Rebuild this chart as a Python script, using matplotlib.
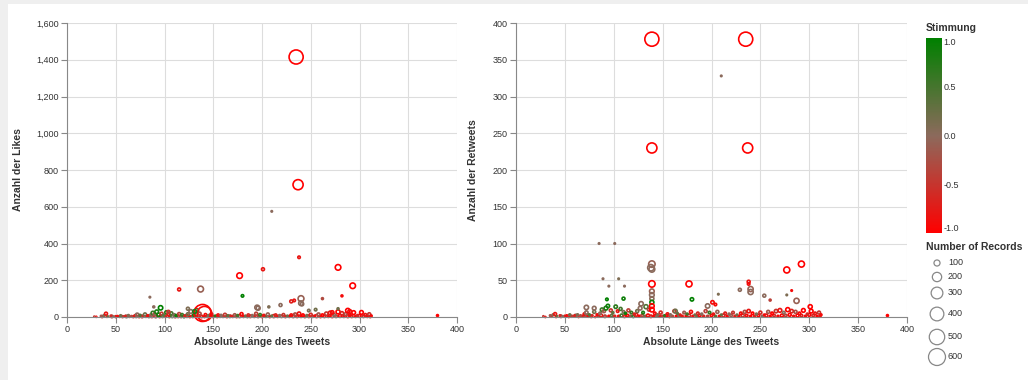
import numpy as np
import matplotlib.pyplot as plt
from matplotlib.colors import LinearSegmentedColormap, Normalize
from matplotlib.patches import Rectangle

plt.rcParams['font.family'] = ['Liberation Sans', 'DejaVu Sans']

# tweets close to the bottom (shared by both panels)
low_x = [28, 35, 38, 40, 42, 45, 48, 52, 55, 58,
         60, 63, 66, 70, 72, 75, 78, 80, 83, 86,
         88, 90, 92, 94, 97, 99, 102, 104, 107, 110,
         112, 115, 118, 121, 124, 127, 130, 133, 136, 142,
         145, 148, 152, 155, 158, 162, 165, 168, 172, 175,
         179, 183, 186, 190, 194, 198, 202, 206, 210, 214,
         218, 222, 226, 230, 234, 238, 242, 246, 250, 254,
         258, 262, 266, 270, 274, 278, 282, 286, 290, 294,
         298, 302, 306, 310, 312, 380]
low_likes = [2, 5, 8, 18, 3, 6, 2, 4, 7, 3,
             5, 8, 4, 6, 12, 9, 5, 14, 7, 10,
             22, 15, 28, 12, 18, 9, 25, 14, 20, 11,
             8, 16, 12, 6, 15, 30, 10, 35, 18, 12,
             8, 14, 6, 10, 9, 12, 7, 5, 11, 8,
             16, 6, 10, 8, 18, 12, 9, 14, 6, 10,
             8, 12, 6, 10, 14, 18, 10, 8, 12, 6,
             14, 10, 18, 22, 12, 28, 20, 16, 10, 24,
             8, 25, 12, 15, 6, 8]
low_rts = [1, 2, 3, 4, 1, 2, 1, 2, 3, 1,
           2, 3, 2, 4, 6, 3, 2, 7, 3, 5,
           10, 8, 12, 15, 9, 6, 14, 8, 11, 7,
           5, 9, 6, 4, 8, 12, 6, 14, 10, 5,
           3, 6, 2, 4, 3, 8, 5, 3, 6, 4,
           7, 3, 5, 4, 8, 6, 4, 7, 3, 5,
           4, 6, 3, 5, 7, 8, 5, 4, 6, 3,
           7, 5, 8, 9, 6, 10, 8, 7, 5, 9,
           4, 8, 5, 6, 3, 2]
low_sent = [-0.5, -0.2, 0.1, -0.8, 0.3, -0.6, 0.0, -0.9, 0.2, -0.4,
            -0.7, 0.1, -0.3, -0.8, 0.0, 0.4, -0.6, 0.2, -0.9, 0.0,
            0.6, -0.2, 0.8, 0.9, -0.5, 0.3, 0.7, -0.8, 0.5, 0.1,
            0.9, -0.4, 0.6, -0.7, 0.2, 0.0, 0.8, 0.4, -0.3, -0.9,
            0.1, -0.6, 0.7, -0.8, 0.0, -0.5, 0.3, -0.7, -0.2, 0.5,
            -0.9, 0.2, -0.6, 0.0, -0.4, 0.6, -0.8, -0.1, 0.3, -0.7,
            0.0, -0.5, 0.2, -0.9, -0.3, -0.8, -1.0, 0.1, -0.6, -0.9,
            -0.2, -1.0, -0.5, -0.8, 0.0, -1.0, -0.7, -0.3, -0.9, -1.0,
            -0.6, -1.0, -0.8, -0.5, -0.9, -1.0]
low_n = [30, 32, 35, 45, 30, 32, 30, 32, 35, 30,
         32, 35, 32, 40, 50, 35, 32, 45, 35, 40,
         50, 45, 55, 50, 45, 35, 50, 40, 45, 40,
         35, 45, 40, 35, 45, 55, 40, 60, 45, 40,
         35, 45, 32, 40, 35, 45, 35, 32, 40, 35,
         45, 32, 40, 35, 45, 40, 35, 45, 32, 40,
         35, 40, 32, 40, 45, 50, 40, 35, 45, 32,
         45, 40, 50, 55, 40, 60, 50, 45, 40, 55,
         35, 55, 40, 45, 35, 35]

# the band of tweets right on the x axis
base_x = [30, 36, 41, 46, 50, 54, 57, 61, 64, 68,
          71, 74, 77, 81, 84, 87, 91, 95, 98, 101,
          105, 108, 111, 114, 117, 120, 123, 126, 129, 132,
          135, 138, 141, 144, 147, 150, 154, 157, 160, 164,
          167, 170, 174, 177, 181, 185, 188, 192, 196, 200,
          204, 208, 212, 216, 220, 224, 228, 232, 236, 240,
          244, 248, 252, 256, 260, 264, 268, 272, 276, 280,
          284, 288, 292, 296, 300, 304, 308, 311]
base_likes = [1, 2, 1, 3, 2, 1, 2, 3, 1, 2,
              4, 2, 3, 1, 2, 5, 3, 2, 4, 3,
              2, 5, 3, 4, 2, 3, 6, 2, 4, 3,
              5, 3, 2, 4, 3, 2, 4, 1, 3, 2,
              4, 3, 2, 5, 3, 2, 4, 3, 2, 4,
              3, 2, 5, 3, 4, 2, 3, 5, 4, 3,
              2, 4, 3, 5, 2, 4, 3, 5, 4, 6,
              3, 5, 4, 3, 6, 4, 3, 2]
base_rts = [0, 1, 0, 1, 1, 0, 1, 2, 0, 1,
            2, 1, 1, 0, 1, 2, 1, 1, 2, 1,
            1, 2, 1, 2, 1, 1, 3, 1, 2, 1,
            2, 1, 1, 2, 1, 1, 2, 0, 1, 1,
            2, 1, 1, 2, 1, 1, 2, 1, 1, 2,
            1, 1, 2, 1, 2, 1, 1, 2, 2, 1,
            1, 2, 1, 2, 1, 2, 1, 2, 2, 3,
            1, 2, 2, 1, 3, 2, 1, 1]
base_sent = [-0.9, -0.6, -1.0, -0.3, -0.8, -1.0, -0.5, 0.0, -0.9, -0.7,
             -0.2, -1.0, -0.6, -0.9, 0.1, -0.8, -0.4, -1.0, 0.3, -0.7,
             -0.9, 0.5, -0.6, -1.0, -0.2, 0.6, -0.8, -1.0, -0.4, 0.2,
             -0.9, -0.7, -1.0, 0.0, -0.8, -0.5, -1.0, -0.9, -0.3, -1.0,
             0.1, -0.8, -1.0, -0.6, -0.9, 0.2, -1.0, -0.7, -0.4, -1.0,
             0.4, -0.9, -0.6, -1.0, -0.2, -0.8, -1.0, -0.5, -0.9, -1.0,
             -0.7, -1.0, 0.0, -0.8, -1.0, -0.6, -0.9, -1.0, -0.4, -1.0,
             -0.8, -1.0, -0.7, -0.9, -1.0, -0.6, -1.0, -0.8]
base_n = [30, 35, 30, 40, 35, 30, 35, 40, 30, 35,
          40, 35, 40, 30, 35, 45, 40, 35, 40, 35,
          35, 45, 40, 40, 35, 40, 45, 35, 40, 35,
          45, 40, 35, 40, 35, 35, 40, 30, 35, 35,
          40, 35, 35, 45, 35, 35, 40, 35, 35, 40,
          35, 35, 45, 35, 40, 35, 35, 45, 40, 35,
          35, 40, 35, 45, 35, 40, 35, 45, 40, 45,
          35, 45, 40, 35, 45, 40, 35, 35]

# likes panel, outstanding tweets
lk_x = [235, 237, 210, 238, 201, 177, 278, 293, 115, 137,
        180, 282, 262, 85, 240, 240, 241, 230, 233, 219,
        207, 195, 196, 96, 89, 124, 139, 141, 278, 288,
        290, 248, 255, 131, 104, 272]
lk_y = [1415, 720, 575, 325, 260, 225, 270, 170, 150, 152,
        115, 115, 100, 108, 100, 75, 70, 85, 90, 65,
        55, 52, 48, 50, 55, 45, 22, 18, 45, 35,
        30, 35, 40, 30, 28, 25]
lk_sent = [-1.0, -1.0, 0.0, -0.8, -0.8, -1.0, -1.0, -1.0, -0.8, -0.1,
           1.0, -0.9, -0.3, 0.0, -0.1, 0.0, 0.0, -0.7, -0.8, 0.0,
           0.1, 0.0, 0.0, 1.0, 0.0, 0.1, -1.0, -0.9, 0.2, -1.0,
           -0.9, 0.1, 0.2, 0.8, -0.5, -0.9]
lk_n = [420, 230, 32, 40, 45, 90, 90, 90, 45, 95,
        40, 35, 35, 32, 95, 70, 50, 45, 40, 45,
        35, 70, 60, 65, 35, 45, 600, 450, 35, 65,
        55, 40, 40, 55, 45, 50]

# retweets panel, outstanding tweets
rt_x = [139, 235, 139, 237, 210, 85, 101, 139, 138, 139,
        292, 277, 139, 177, 89, 105, 95, 111, 238, 238,
        240, 240, 229, 282, 207, 254, 277, 260, 287, 180,
        201, 204, 93, 110, 139, 139, 139, 139, 139, 139,
        301, 72, 80, 196, 128, 163]
rt_y = [378, 378, 230, 230, 328, 100, 100, 72, 67, 65,
        72, 64, 45, 45, 52, 52, 42, 42, 48, 45,
        38, 34, 37, 36, 31, 29, 30, 23, 22, 24,
        20, 17, 24, 25, 35, 30, 25, 20, 15, 10,
        14, 13, 12, 15, 18, 8]
rt_sent = [-1.0, -1.0, -1.0, -1.0, 0.0, 0.0, 0.0, -0.1, 0.0, 0.0,
           -1.0, -1.0, -1.0, -1.0, 0.0, 0.1, 0.0, 0.0, -0.8, -0.9,
           -0.1, 0.0, 0.0, -0.9, 0.1, 0.0, 0.1, -0.4, -0.1, 1.0,
           -0.9, -0.9, 1.0, 0.9, -0.1, 0.0, 0.0, 0.9, -1.0, -1.0,
           -1.0, 0.0, 0.0, 0.0, 0.0, 0.2]
rt_n = [420, 420, 230, 230, 32, 32, 32, 110, 110, 95,
        100, 100, 110, 100, 32, 32, 32, 32, 45, 40,
        80, 80, 45, 32, 32, 45, 32, 35, 80, 50,
        50, 40, 40, 45, 70, 70, 60, 60, 70, 70,
        60, 65, 55, 65, 65, 55]

legend_n = [100, 200, 300, 400, 500, 600]

cmap = LinearSegmentedColormap.from_list('stimmung', ['#ff0000', '#8c6a5c', '#008000'])
norm = Normalize(-1, 1)


def marker_area(n):
    # vega like size scale: area grows linearly with records
    d2 = np.maximum(0.505 * np.asarray(n, dtype=float) - 14, 1.0)
    return 0.5184 * d2


def points(ax, x, y, sent, n):
    ax.scatter(x, y, s=marker_area(n), facecolors='none',
               edgecolors=cmap(norm(sent)), linewidths=1.2, clip_on=False)


def style_axis(ax, ymax, ystep, ylabel, ylabel_x):
    ax.set_xlim(0, 400)
    ax.set_ylim(0, ymax)
    ax.set_xticks(np.arange(0, 401, 50))
    ax.set_yticks(np.arange(0, ymax + 1, ystep))
    ax.set_yticklabels(['{:,}'.format(v) for v in range(0, ymax + 1, ystep)])
    ax.grid(True, color='#dddddd', linewidth=0.8)
    ax.set_axisbelow(True)
    for s in ['top', 'right']:
        ax.spines[s].set_visible(False)
    for s in ['left', 'bottom']:
        ax.spines[s].set_color('#888888')
        ax.spines[s].set_linewidth(0.8)
    ax.tick_params(colors='#888888', labelcolor='#333333', labelsize=6.5,
                   length=4, width=0.8, pad=2)
    ax.set_xlabel('Absolute Länge des Tweets', fontsize=7.5, fontweight='bold', color='#333333')
    ax.set_ylabel(ylabel, fontsize=7.5, fontweight='bold', color='#333333')
    ax.xaxis.set_label_coords(0.5, -0.068)
    ax.yaxis.set_label_coords(ylabel_x, 0.5)


fig = plt.figure(figsize=(10.28, 3.8), dpi=100)
fig.patch.set_facecolor('white')
# grey page border on top and left
fig.patches.append(Rectangle((0, 1 - 4 / 380), 1, 4 / 380, transform=fig.transFigure,
                             facecolor='#efefef', edgecolor='none', zorder=-5))
fig.patches.append(Rectangle((0, 0), 8 / 1028, 1, transform=fig.transFigure,
                             facecolor='#efefef', edgecolor='none', zorder=-5))

ax1 = fig.add_axes([67 / 1028, 1 - 317 / 380, 390 / 1028, 294 / 380])
ax2 = fig.add_axes([516 / 1028, 1 - 317 / 380, 391 / 1028, 294 / 380])

points(ax1, base_x, base_likes, base_sent, base_n)
points(ax1, low_x, low_likes, low_sent, low_n)
points(ax1, lk_x, lk_y, lk_sent, lk_n)
style_axis(ax1, 1600, 200, 'Anzahl der Likes', -0.113)

points(ax2, base_x, base_rts, base_sent, base_n)
points(ax2, low_x, low_rts, low_sent, low_n)
points(ax2, rt_x, rt_y, rt_sent, rt_n)
style_axis(ax2, 400, 50, 'Anzahl der Retweets', -0.097)

# colour legend
cax = fig.add_axes([926 / 1028, 1 - 233 / 380, 16 / 1028, 195 / 380])
sm = plt.cm.ScalarMappable(norm=norm, cmap=cmap)
cb = fig.colorbar(sm, cax=cax, ticks=[-1.0, -0.5, 0.0, 0.5, 1.0])
cb.outline.set_visible(False)
cb.ax.tick_params(length=0, labelsize=6.5, labelcolor='#333333', pad=1)
cb.ax.set_yticklabels(['-1.0', '-0.5', '0.0', '0.5', '1.0'])
cb_labels = cb.ax.get_yticklabels()
cb_labels[0].set_va('bottom')
cb_labels[-1].set_va('top')
fig.text(926 / 1028, 1 - 28 / 380, 'Stimmung', fontsize=7.5, fontweight='bold',
         color='#333333', va='center')

# size legend
fig.text(926 / 1028, 1 - 247 / 380, 'Number of Records', fontsize=7.5, fontweight='bold',
         color='#333333', va='center')
lax = fig.add_axes([926 / 1028, 0, 100 / 1028, 1 - 253 / 380])
lax.set_xlim(926, 1026)
lax.set_ylim(380, 253)
lax.axis('off')
leg_y = [263, 277, 293, 314, 337, 357]
lax.scatter([937] * len(legend_n), leg_y, s=marker_area(legend_n), facecolors='none',
            edgecolors='#888888', linewidths=0.9, clip_on=False)
for yy, n in zip(leg_y, legend_n):
    lax.text(948, yy, str(n), fontsize=6.5, color='#333333', va='center')

fig.savefig('out.png', dpi=100, facecolor=fig.get_facecolor())
